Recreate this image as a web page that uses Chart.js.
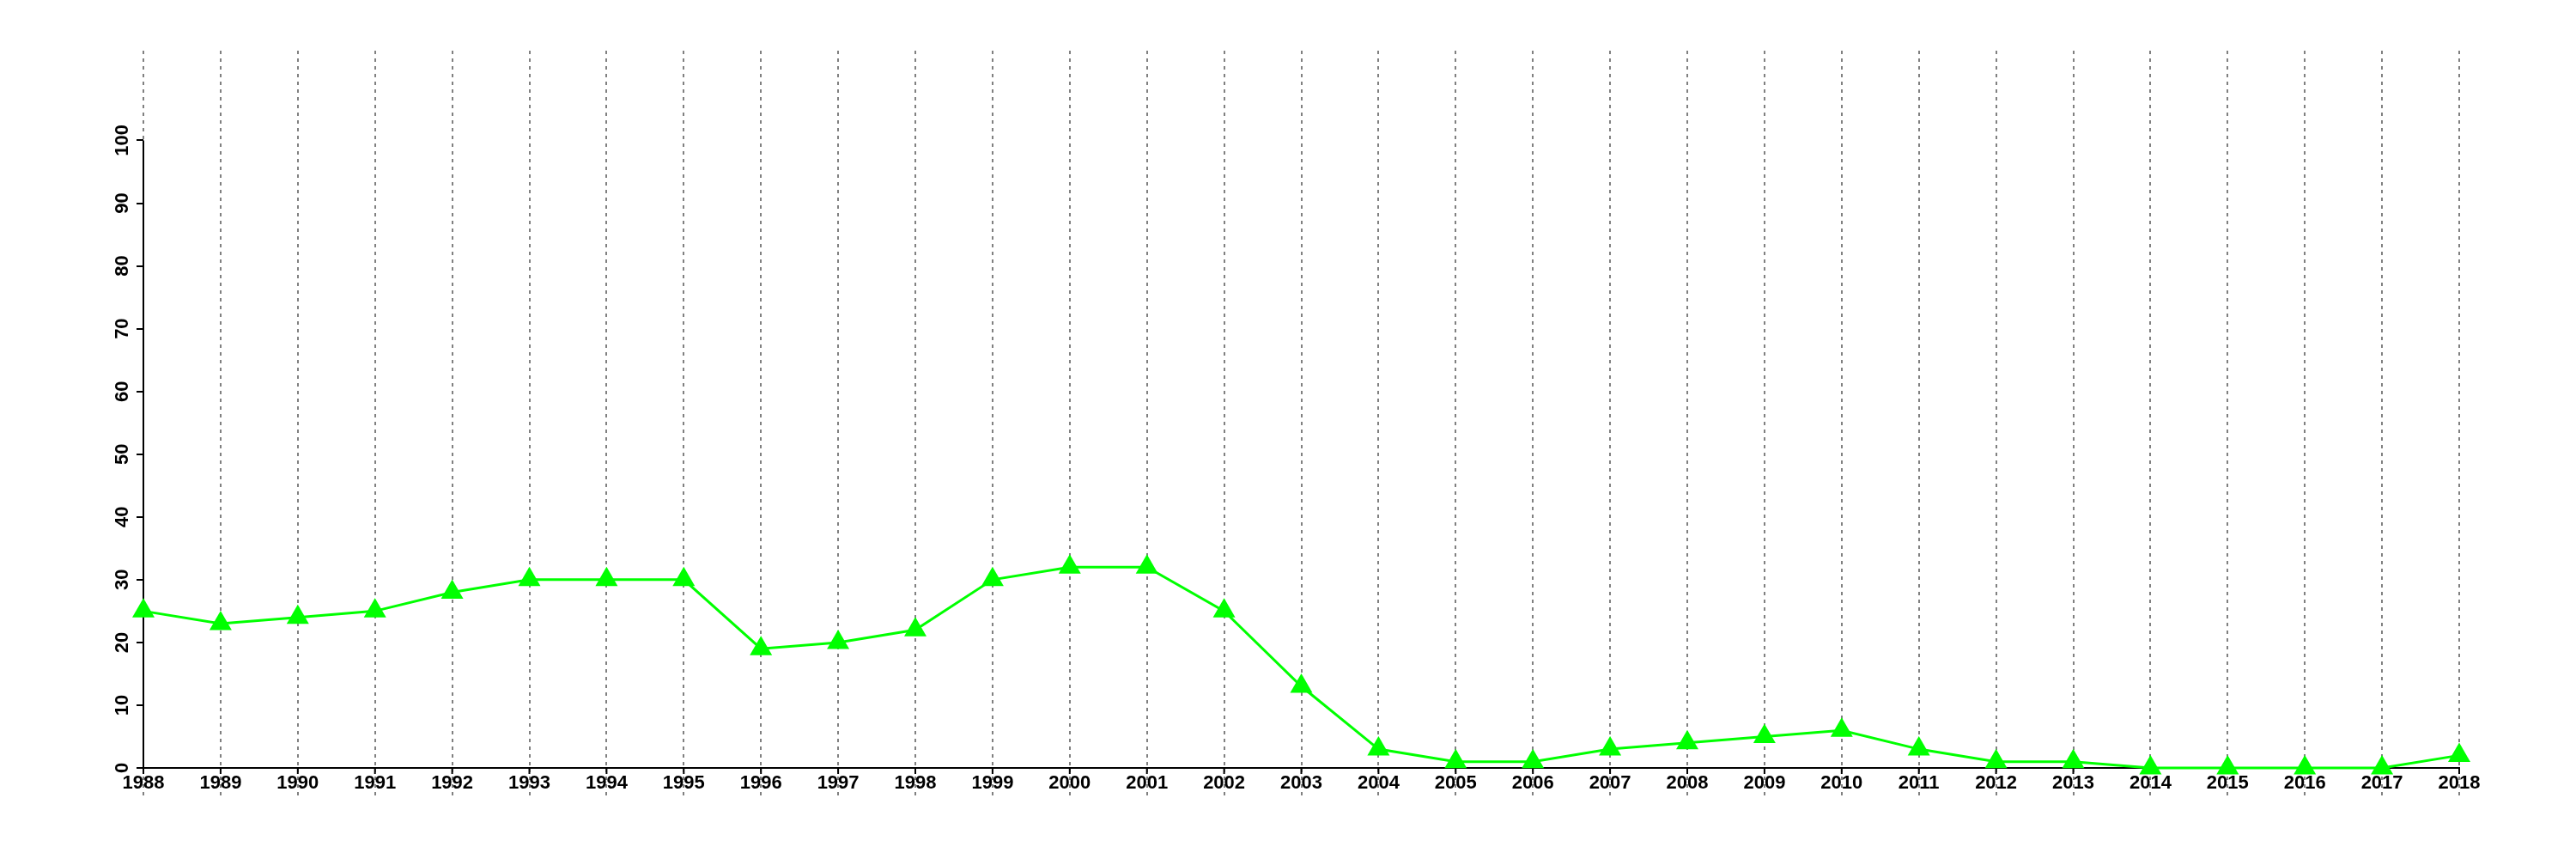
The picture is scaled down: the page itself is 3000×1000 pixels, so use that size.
<!DOCTYPE html>
<html>
<head>
<meta charset="utf-8">
<script src="https://cdn.jsdelivr.net/npm/chart.js@4"></script>
<style>
  body { margin: 0; background: #fff; }
  #wrap { width: 3000px; height: 1000px; }
</style>
</head>
<body>
<div id="wrap"><canvas id="myChart"></canvas></div>
<script>
const years = ['1988', '1989', '1990', '1991', '1992', '1993', '1994', '1995', '1996', '1997', '1998',
  '1999', '2000', '2001', '2002', '2003', '2004', '2005', '2006', '2007', '2008', '2009', '2010',
  '2011', '2012', '2013', '2014', '2015', '2016', '2017', '2018'];
const values = [25, 23, 24, 25, 28, 30, 30, 30, 19, 20, 22,
  30, 32, 32, 25, 13, 3, 1, 1, 3, 4, 5, 6,
  3, 1, 1, 0, 0, 0, 0, 2];
const yTicks = [0, 10, 20, 30, 40, 50, 60, 70, 80, 90, 100];

const labelFont = { family: 'Liberation Sans', size: 22, weight: 'bold' };

// y axis line only from 0 to 100, plus small black ticks under the x axis
const axisLines = {
  id: 'axisLines',
  beforeDatasetsDraw(chart) {
    const { ctx, scales: { x, y } } = chart;
    ctx.save();
    ctx.strokeStyle = '#000';
    ctx.lineWidth = 2;
    ctx.beginPath();
    ctx.moveTo(x.left, y.getPixelForValue(0));
    ctx.lineTo(x.left, y.getPixelForValue(100));
    ctx.stroke();
    for (let i = 0; i < x.ticks.length; i++) {
      const px = x.getPixelForTick(i);
      ctx.beginPath();
      ctx.moveTo(px, y.bottom);
      ctx.lineTo(px, y.bottom + 7);
      ctx.stroke();
    }
    ctx.restore();
  }
};

const ctx = document.getElementById('myChart');

new Chart(ctx, {
  type: 'line',
  data: {
    labels: years,
    datasets: [{
      data: values,
      borderColor: '#00ff00',
      backgroundColor: '#00ff00',
      borderWidth: 3,
      pointStyle: 'triangle',
      pointRadius: 15,
      pointBorderWidth: 0,
      pointBackgroundColor: '#00ff00',
      tension: 0,
      clip: false
    }]
  },
  options: {
    responsive: true,
    maintainAspectRatio: false,
    animation: false,
    layout: { padding: { left: 107, right: 136, top: 59, bottom: 0 } },
    plugins: {
      legend: { display: false },
      tooltip: { enabled: false }
    },
    scales: {
      x: {
        offset: false,
        grid: {
          color: '#808080',
          lineWidth: 2,
          tickColor: '#808080',
          tickBorderDash: [4, 5],
          tickLength: 33
        },
        border: { display: true, color: '#000', width: 2, dash: [4, 5] },
        ticks: {
          color: '#000',
          font: labelFont,
          padding: -28,
          maxRotation: 0,
          autoSkip: false
        },
        afterFit(scale) { scale.height = 106; }
      },
      y: {
        min: 0,
        max: 114.3,
        afterBuildTicks(scale) {
          scale.ticks = yTicks.map(v => ({ value: v }));
        },
        grid: {
          drawOnChartArea: false,
          drawTicks: true,
          tickLength: 8,
          color: '#000',
          lineWidth: 2
        },
        border: { display: false },
        ticks: {
          color: '#000',
          font: labelFont,
          minRotation: 90,
          maxRotation: 90,
          crossAlign: 'center',
          padding: -2
        },
        afterFit(scale) { scale.width = 60; }
      }
    }
  },
  plugins: [axisLines]
});
</script>
</body>
</html>
